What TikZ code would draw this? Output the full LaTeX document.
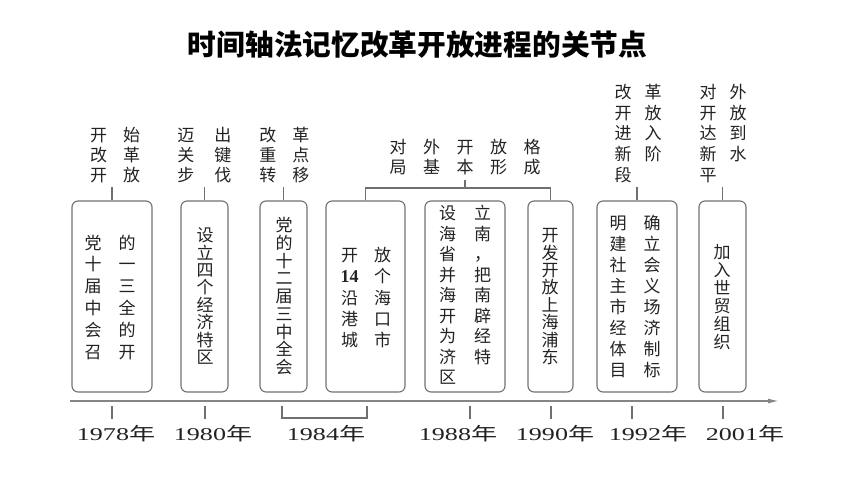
\documentclass[tikz,border=0pt]{standalone}
\usepackage{fontspec}
\setmainfont{Liberation Serif}
\newfontfamily\cjk{Noto Sans CJK SC}
\usetikzlibrary{matrix,arrows.meta}
\definecolor{ln}{HTML}{707070}
\definecolor{tx}{HTML}{222222}
\tikzset{
  cg/.style 2 args={matrix of nodes, inner sep=0pt, column sep=0pt, row sep=0pt,
    nodes={inner sep=0pt, minimum width=#1, minimum height=#2, text height=15pt, text depth=2pt,
      font=\cjk\fontsize{17}{17}\selectfont, text=tx, anchor=center}},
  ev/.style={draw=ln, line width=1.1pt, rounded corners=6pt, inner sep=0pt},
  con/.style={draw=ln, line width=1.1pt},
  axisline/.style={draw=ln!85, line width=1.4pt},
  yr/.style={font=\fontsize{18}{18}\selectfont, text=tx, inner sep=0pt, anchor=base},
  num/.style={font=\rmfamily\bfseries\fontsize{18}{18}\selectfont},
}
\begin{document}
\begin{tikzpicture}[x=1pt,y=-1pt]
\useasboundingbox (0,0) rectangle (860,484);
% title
\node[font=\cjk\bfseries\fontsize{28.7}{30}\selectfont, text=black, inner sep=0pt] (title) at (417.5,45) {时间轴法记忆改革开放进程的关节点};
% boxes
\node[ev, minimum width=80pt, minimum height=191pt] (b1) at (112,296.5) {};
\node[ev, minimum width=47pt, minimum height=191pt] (b2) at (204.5,296.5) {};
\node[ev, minimum width=47pt, minimum height=191pt] (b3) at (283.5,296.5) {};
\node[ev, minimum width=79pt, minimum height=191pt] (b4) at (365.5,296.5) {};
\node[ev, minimum width=80pt, minimum height=191pt] (b5) at (465,296.5) {};
\node[ev, minimum width=45pt, minimum height=191pt] (b6) at (550.5,296.5) {};
\node[ev, minimum width=80pt, minimum height=191pt] (b7) at (637,296.5) {};
\node[ev, minimum width=47pt, minimum height=191pt] (b8) at (722.5,296.5) {};
% box texts
\matrix[cg={34pt}{21.8pt}] (m1) at (110,297) {党&的\\十&一\\届&三\\中&全\\会&的\\召&开\\};
\matrix[cg={18pt}{17.4pt}] (m2) at (205,296) {设\\立\\四\\个\\经\\济\\特\\区\\};
\matrix[cg={18pt}{17.75pt}] (m3) at (284,296) {党\\的\\十\\二\\届\\三\\中\\全\\会\\};
\matrix[cg={33pt}{21.25pt}] (m4) at (366,297.5) {开&放\\|[num]|14&个\\沿&海\\港&口\\城&市\\};
\matrix[cg={35pt}{20.5pt}] (m5) at (465,295) {设&立\\海&南\\省&，\\并&把\\海&南\\开&辟\\为&经\\济&特\\区&\\};
\matrix[cg={18pt}{17.4pt}] (m6) at (550,296) {开\\发\\开\\放\\上\\海\\浦\\东\\};
\matrix[cg={34pt}{21pt}] (m7) at (635,296.5) {明&确\\建&立\\社&会\\主&义\\市&场\\经&济\\体&制\\目&标\\};
\matrix[cg={18pt}{18pt}] (m8) at (722,297) {加\\入\\世\\贸\\组\\织\\};
% labels above
\matrix[cg={33pt}{20pt}] (l1) at (115,155) {开&始\\改&革\\开&放\\};
\matrix[cg={37pt}{20pt}] (l2) at (204.3,155) {迈&出\\关&键\\步&伐\\};
\matrix[cg={33pt}{20pt}] (l3) at (284.3,155) {改&革\\重&点\\转&移\\};
\matrix[cg={33.5pt}{20pt}] (l4) at (465,157) {对&外&开&放&格\\局&基&本&形&成\\};
\matrix[cg={30pt}{20.75pt}] (l7) at (638,133.5) {改&革\\开&放\\进&入\\新&阶\\段&\\};
\matrix[cg={30pt}{20.75pt}] (l8) at (723,133.5) {对&外\\开&放\\达&到\\新&水\\平&\\};
% connectors
\coordinate (c1) at (112,187);
\coordinate (c2) at (204.5,187);
\coordinate (c3) at (283.5,187);
\coordinate (c7) at (637,187);
\coordinate (c8) at (722.5,187);
\draw[con] (c1) -- (b1.north);
\draw[con] (c2) -- (b2.north);
\draw[con] (c3) -- (b3.north);
\draw[con] (c7) -- (b7.north);
\draw[con] (c8) -- (b8.north);
\coordinate (bt) at (465,188);
\coordinate (btop) at (465,180);
\draw[con] (b4.north) |- (bt) -| (b6.north);
\draw[con] (btop) -- (bt);
% axis
\coordinate (a0) at (70,401);
\coordinate (a1) at (779,401);
\draw[axisline, -{Latex[length=11pt,width=5pt]}] (a0) -- (a1);
% ticks
\foreach \n/\x in {1/112,2/205,5/470,6/551,7/632,8/723}{
  \coordinate (t\n) at (\x,406);
  \draw[con] (t\n) -- ++(0,13);
}
\coordinate (k0) at (282,406);
\coordinate (k1) at (367,406);
\draw[con] (k0) |- (324.5,418) -| (k1);
% years
\node[yr] (y1) at (116,440) {\scalebox{1.45}[1]{1978{\cjk 年}}};
\node[yr] (y2) at (213,440) {\scalebox{1.45}[1]{1980{\cjk 年}}};
\node[yr] (y3) at (326,440) {\scalebox{1.45}[1]{1984{\cjk 年}}};
\node[yr] (y5) at (458,440) {\scalebox{1.45}[1]{1988{\cjk 年}}};
\node[yr] (y6) at (555,440) {\scalebox{1.45}[1]{1990{\cjk 年}}};
\node[yr] (y7) at (648,440) {\scalebox{1.45}[1]{1992{\cjk 年}}};
\node[yr] (y8) at (745,440) {\scalebox{1.45}[1]{2001{\cjk 年}}};
\end{tikzpicture}
\end{document}
